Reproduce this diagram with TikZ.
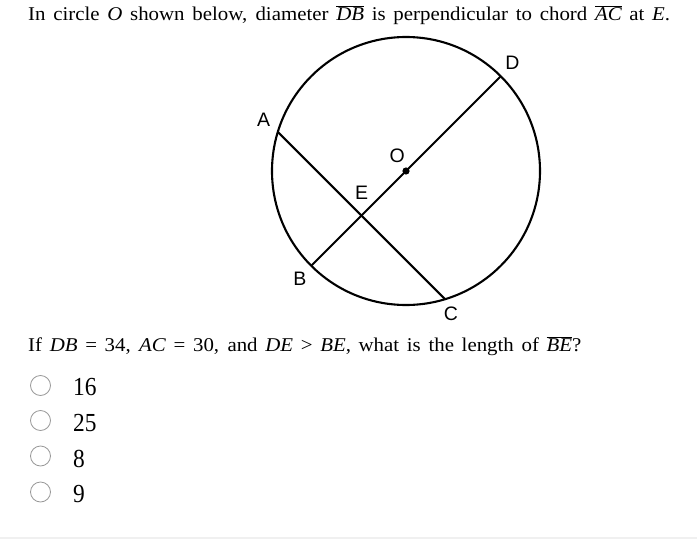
\documentclass[tikz,border=0pt]{standalone}
\usepackage{fontspec}
\setmainfont{Liberation Serif}
\newfontfamily\lblfont{Liberation Sans}
\usetikzlibrary{calc}
\newcommand\ovl[1]{$\overline{\hbox{\itshape #1}}$}
\begin{document}
\begin{tikzpicture}[x=1pt,y=1pt,
  geo/.style={line width=2.1pt},
  lbl/.style={font=\lblfont\fontsize{19.5}{22}\selectfont, inner sep=0pt},
  txt/.style={font=\fontsize{19.5}{22}\selectfont, inner sep=0pt, anchor=base west},
  opt/.style={font=\fontsize{26}{28}\selectfont, inner sep=0pt, anchor=base west},
  radio/.style={draw=black!40, line width=0.8pt, circle, minimum size=20pt, inner sep=0pt}]
\useasboundingbox (0,-557) rectangle (697,0);
\fill[white] (0,-557) rectangle (697,0);
% circle
\coordinate (O) at (406,-171);
\draw[geo] (O) circle (134);
\coordinate (D) at ($(O)+(45:134)$);
\coordinate (B) at ($(O)+(225:134)$);
\coordinate (A) at ($(O)+(163.07:134)$);
\coordinate (C) at ($(O)+(286.93:134)$);
\coordinate (E) at ($(O)+(225:63.06)$);
\draw[geo] (D) -- (B);
\draw[geo] (A) -- (C);
\fill (O) circle (3.6);
% labels
\node[lbl] (lA) at (263.7,-119.7) {A};
\node[lbl] (lD) at (512.5,-63) {D};
\node[lbl] (lO) at (397.3,-155.3) {O};
\node[lbl] (lE) at (361.7,-193) {E};
\node[lbl] (lB) at (300,-279) {B};
\node[lbl] (lC) at (450.8,-314) {C};
% texts
\node[txt] (t1) at (28,-20.5) {\scalebox{1.07}[1]{\makebox[600pt][s]{In circle \textit{O} shown below, diameter \ovl{DB} is perpendicular to chord \ovl{AC} at \textit{E}.}}};
\node[txt] (t2) at (28,-351.7) {\scalebox{1.07}[1]{\makebox[517pt][s]{If \textit{DB} = 34, \textit{AC} = 30, and \textit{DE} > \textit{BE}, what is the length of \ovl{BE}?}}};
% options
\node[radio] (r1) at (40.5,-385.5) {};
\node[radio] (r2) at (40.5,-420.5) {};
\node[radio] (r3) at (40.5,-456) {};
\node[radio] (r4) at (40.5,-492) {};
\node[opt] (o1) at (73,-395) {\scalebox{0.9}[1]{16}};
\node[opt] (o2) at (73,-431) {\scalebox{0.9}[1]{25}};
\node[opt] (o3) at (73,-467) {\scalebox{0.9}[1]{8}};
\node[opt] (o4) at (73,-502) {\scalebox{0.9}[1]{9}};
\draw[black!6, line width=1.2pt] (0,-538) -- (697,-538);
\end{tikzpicture}
\end{document}
